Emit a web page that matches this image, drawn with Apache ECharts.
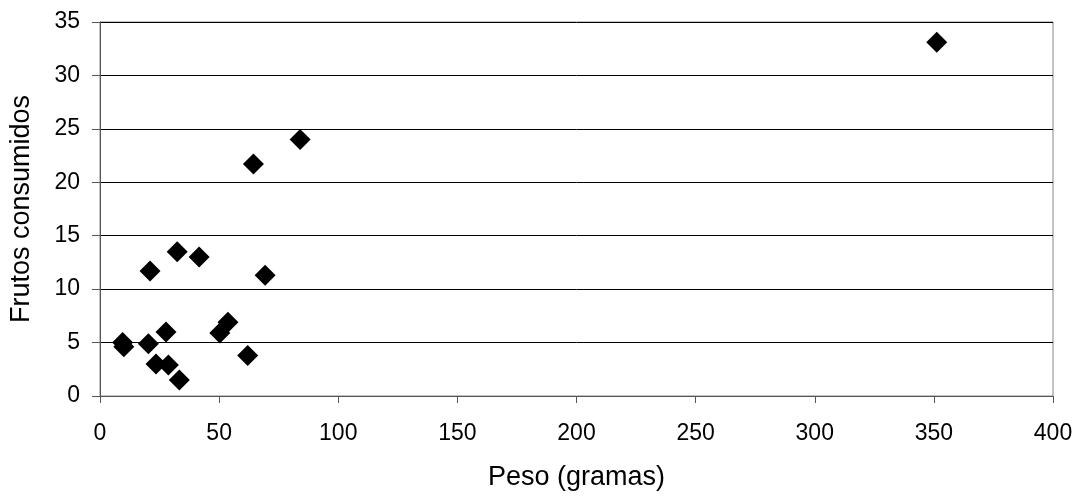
<!DOCTYPE html>
<html><head><meta charset="utf-8">
<script src="https://cdn.jsdelivr.net/npm/echarts@6/dist/echarts.min.js"></script>
<style>html,body{margin:0;padding:0;background:#fff}#c{width:1078px;height:498px}</style>
</head><body><div id="c"></div>
<script>
const pesoGramas = [9.5, 10, 21.0, 20.3, 27.7, 23.5, 28.7, 33.3, 32.4, 41.6, 50.3, 53.7, 62.0, 69.3, 64.4, 84.0, 351.2];
const frutosConsumidos = [5.0, 4.6, 11.7, 4.9, 6.0, 3.0, 2.9, 1.5, 13.5, 13.0, 5.9, 6.9, 3.8, 11.3, 21.7, 24.0, 33.1];
const xAxisName = 'Peso (gramas)';
const yAxisName = 'Frutos consumidos';

const data = pesoGramas.map((x, i) => [x, frutosConsumidos[i]]);
const font = 'Liberation Sans, Arial, sans-serif';
const chart = echarts.init(document.getElementById('c'));
chart.setOption({
  animation: false,
  grid: {left: 100, right: 25, top: 22, bottom: 102, show: true, borderColor: '#888', borderWidth: 1},
  xAxis: {
    type: 'value', min: 0, max: 400, interval: 50,
    name: xAxisName, nameLocation: 'middle', nameGap: 68,
    nameTextStyle: {fontFamily: font, fontSize: 27, color: '#000'},
    axisLine: {lineStyle: {color: '#555', width: 1}},
    axisTick: {show: true, length: 7, lineStyle: {color: '#555'}},
    axisLabel: {fontFamily: font, fontSize: 23, color: '#000', margin: 26},
    splitLine: {show: false}
  },
  yAxis: {
    type: 'value', min: 0, max: 35, interval: 5,
    name: yAxisName, nameLocation: 'middle', nameGap: 65,
    nameTextStyle: {fontFamily: font, fontSize: 27, color: '#000'},
    axisLine: {show: true, lineStyle: {color: '#555', width: 1}},
    axisTick: {show: true, length: 8, lineStyle: {color: '#555'}},
    axisLabel: {fontFamily: font, fontSize: 23, color: '#000', margin: 20},
    splitLine: {show: true, lineStyle: {color: '#000', width: 1}}
  },
  series: [{
    type: 'scatter', data: data, symbol: 'diamond', symbolSize: 21,
    itemStyle: {color: '#000', opacity: 1}
  }]
});
</script></body></html>
